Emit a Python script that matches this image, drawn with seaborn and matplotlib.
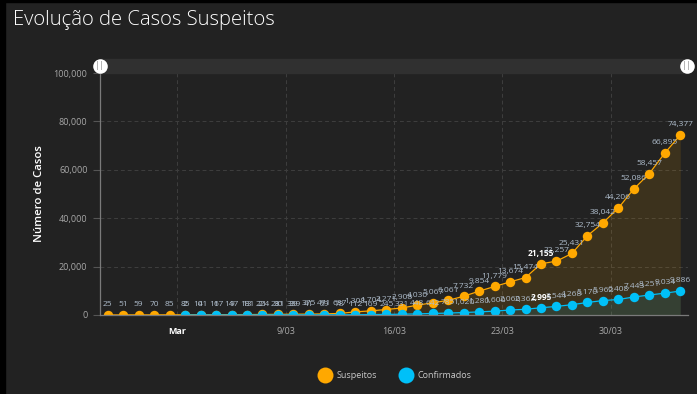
import pandas as pd
import numpy as np
import matplotlib.pyplot as plt
from matplotlib.patches import Rectangle
from matplotlib.lines import Line2D
import seaborn as sns

# dados diários (26/02 a 03/04)
datas = pd.date_range('2020-02-26', '2020-04-03', freq='D')
suspeitos = [25, 51, 59, 70, 85, 85, 101, 117, 147, 181, 224, 281, 339, 375, 471,
             637, 1308, 1704, 2271, 2908, 4030, 5067, 6061, 7732, 9854, 11779,
             13674, 15474, 21155, 22257, 25431, 32754, 38042, 44206, 52086,
             58457, 66895, 74377]
confirmados = [np.nan] * 5 + [2, 4, 6, 9, 13, 21, 30, 39, 41, 59, 78, 112, 169,
                              245, 331, 448, 642, 785, 1020, 1280, 1600, 2060,
                              2362, 2995, 3544, 4268, 5170, 5962, 6408, 7443,
                              8251, 9034, 9886]
destaque = pd.Timestamp('2020-03-25')
ticks_datas = pd.to_datetime(['2020-03-02', '2020-03-09', '2020-03-16', '2020-03-23', '2020-03-30'])
ticks_rotulos = ['Mar', '9/03', '16/03', '23/03', '30/03']

df = pd.DataFrame({'data': datas + pd.Timedelta(hours=12),
                   'Suspeitos': suspeitos, 'Confirmados': confirmados})
df_conf = df.dropna()

cor_sus = '#ffa800'
cor_conf = '#00c0f8'
fundo = '#222222'
cor_rotulo = '#aebccb'

sns.set_style('dark', {'axes.facecolor': fundo, 'figure.facecolor': fundo})
plt.rcParams['font.family'] = ['Open Sans', 'DejaVu Sans']

fig = plt.figure(figsize=(6.97, 3.94), dpi=100)
ax = fig.add_axes([100 / 697, 1 - 315 / 394, 588 / 697, 242 / 394])

# borda preta à esquerda / topo
fig.patches.append(Rectangle((0, 0), 5 / 697, 1, transform=fig.transFigure, color='black', zorder=0))
fig.patches.append(Rectangle((0, 1 - 2 / 394), 1, 2 / 394, transform=fig.transFigure, color='black', zorder=0))

# áreas
ax.fill_between(df['data'], df['Suspeitos'], color=cor_sus, alpha=0.12, lw=0)
ax.fill_between(df_conf['data'], df_conf['Confirmados'], color=cor_conf, alpha=0.1, lw=0)

# linhas com marcadores
sns.lineplot(data=df, x='data', y='Suspeitos', ax=ax, color=cor_sus, lw=0.9,
             marker='o', markersize=6.8, markeredgewidth=0)
sns.lineplot(data=df_conf, x='data', y='Confirmados', ax=ax, color=cor_conf, lw=0.9,
             marker='o', markersize=6.8, markeredgewidth=0)

# rótulos dos valores
for serie, d in [('Suspeitos', df), ('Confirmados', df_conf)]:
    for x, y in zip(d['data'], d[serie]):
        forte = x.normalize() == destaque
        ax.annotate(f'{y:,.0f}', (x, y), xytext=(0, 7.3), textcoords='offset points',
                    ha='center', va='center', fontsize=6,
                    color='white' if forte else cor_rotulo,
                    fontweight='bold' if forte else 'normal')

ax.set_xlim(pd.Timestamp('2020-02-26'), pd.Timestamp('2020-04-04'))
ax.set_ylim(0, 100000)
ax.set_xticks(ticks_datas)
ax.set_xticklabels(ticks_rotulos)
ax.set_yticks(range(0, 100001, 20000))
ax.yaxis.set_major_formatter(plt.FuncFormatter(lambda v, p: f'{v:,.0f}'))
ax.tick_params(axis='y', colors='#555555', labelcolor='#a8a8a8', labelsize=6.5,
               length=5, width=0.8, pad=4, left=True)
ax.tick_params(axis='x', labelcolor='#a8a8a8', labelsize=6.5, length=0, pad=9)
lbl_mar = ax.get_xticklabels()[0]
lbl_mar.set_color('white')
lbl_mar.set_fontweight('bold')

ax.grid(True, color='#3e3e3e', ls=(0, (4, 3)), lw=0.7)
for s in ['top', 'right']:
    ax.spines[s].set_visible(False)
for s in ['left', 'bottom']:
    ax.spines[s].set_visible(True)
    ax.spines[s].set_color('#7a7a7a')
    ax.spines[s].set_linewidth(0.9)

ax.set_xlabel('')
ax.set_ylabel('Número de Casos', color='white', fontsize=8.2, fontweight='semibold', labelpad=6)

# barra de zoom no topo
ax.add_patch(Rectangle((0, 1), 1, 14 / 242, transform=ax.transAxes, color='#303030',
                       clip_on=False, zorder=3))
yh = 1 + 7 / 242
ax.plot([0, 0.998], [yh, yh], 'o', transform=ax.transAxes, ms=10.5, color='white',
        mew=0, clip_on=False, zorder=4)
for xh in [0, 0.998]:
    ax.text(xh, yh, '||', transform=ax.transAxes, ha='center', va='center',
            fontsize=6.5, color='#8a8a8a', zorder=5)

fig.text(13 / 697, 1 - 20 / 394, 'Evolução de Casos Suspeitos', color='white',
         fontsize=14.6, fontweight='light', va='center', ha='left')

handles = [Line2D([], [], ls='none', marker='o', ms=11.5, color=cor_sus, mew=0),
           Line2D([], [], ls='none', marker='o', ms=11.5, color=cor_conf, mew=0)]
fig.legend(handles, ['Suspeitos', 'Confirmados'], loc='center',
           bbox_to_anchor=(394 / 697, 1 - 376 / 394), ncol=2, frameon=False,
           fontsize=6.5, labelcolor='#c8c8c8', handletextpad=0.3, columnspacing=2.2)

fig.savefig('out.png', dpi=100, facecolor=fundo)
